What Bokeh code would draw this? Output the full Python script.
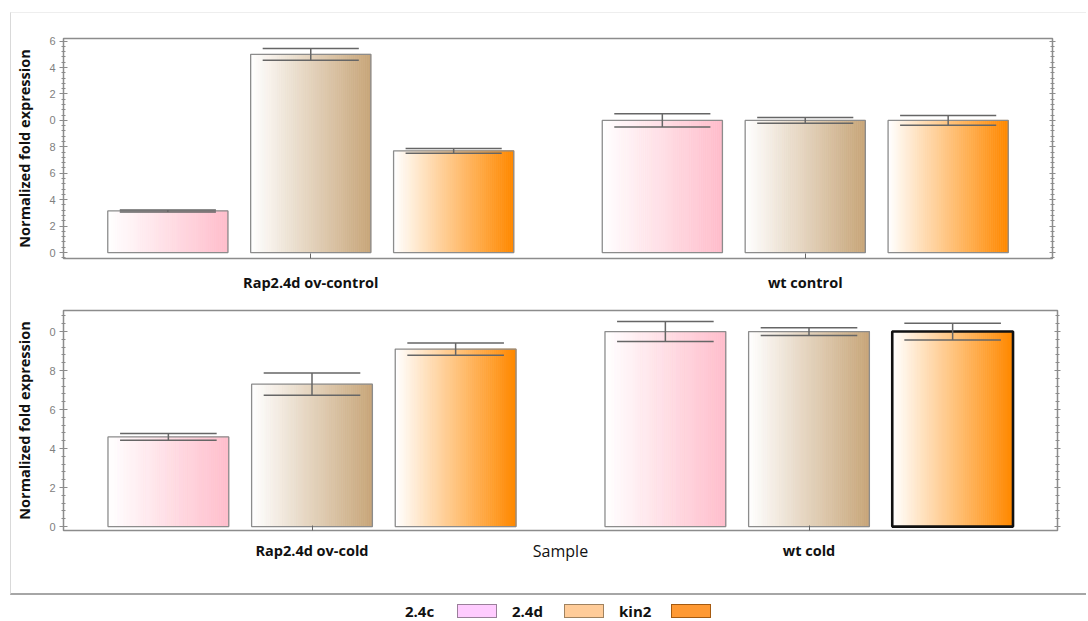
import numpy as np
from bokeh.plotting import figure
from bokeh.models import Range1d, FixedTicker, SingleIntervalTicker, LinearAxis, ColumnDataSource, Div
from bokeh.layouts import column
from bokeh.embed import file_html
from bokeh.resources import INLINE

# ---------------- data ----------------
series = ["2.4c", "2.4d", "kin2"]

top_groups = ["Rap2.4d ov-control", "wt control"]
top_values = {"2.4c": [3.15, 10.0], "2.4d": [15.0, 10.0], "kin2": [7.7, 10.0]}
top_errors = {"2.4c": [0.08, 0.50], "2.4d": [0.45, 0.22], "kin2": [0.18, 0.37]}
top_tick_values = [0, 2, 4, 6, 8, 10, 12, 14, 16]
top_tick_labels = ["0", "2", "4", "6", "8", "0", "2", "4", "6"]

bottom_groups = ["Rap2.4d ov-cold", "wt cold"]
bottom_values = {"2.4c": [4.6, 10.0], "2.4d": [7.3, 10.0], "kin2": [9.1, 10.0]}
bottom_errors = {"2.4c": [0.17, 0.51], "2.4d": [0.57, 0.20], "kin2": [0.31, 0.43]}
bottom_tick_values = [0, 2, 4, 6, 8, 10]
bottom_tick_labels = ["0", "2", "4", "6", "8", "0"]

x_title = "Sample"
y_title = "Normalized fold expression"

# ---------------- style ----------------
end_colors = {"2.4c": (255, 190, 204), "2.4d": (200, 166, 122), "kin2": (255, 137, 0)}
legend_colors = {"2.4c": "#ffccff", "2.4d": "#ffcc99", "kin2": "#ff9933"}
legend_borders = {"2.4c": "#9a7f9a", "2.4d": "#a0825f", "kin2": "#a55a10"}
BAR_STEP = 0.289
BAR_W = 0.243
N_SLICES = 60
GRAY = "#8c8c8c"


def hexc(rgb):
    return "#%02x%02x%02x" % tuple(int(round(c)) for c in rgb)


def panel(groups, vals, errs, tick_vals, tick_labels, y_lo, y_hi, frame_w,
          mb_top, mb_bottom, mb_right, label_standoff, highlight=None, xlabel=None):
    p = figure(frame_width=frame_w, frame_height=220,
               min_border_left=52, min_border_right=mb_right,
               min_border_top=mb_top, min_border_bottom=mb_bottom,
               x_range=Range1d(0, len(groups)), y_range=Range1d(y_lo, y_hi),
               output_backend="svg", toolbar_location=None, tools="",
               background_fill_color="white", border_fill_color="white")
    p.grid.visible = False
    p.outline_line_color = GRAY
    p.outline_line_width = 1.5

    sx, sw, st, sc = [], [], [], []
    bx, bt, blc, blw = [], [], [], []
    ex0, ey0, ex1, ey1 = [], [], [], []
    for gi, g in enumerate(groups):
        for si, s in enumerate(series):
            c = gi + 0.5 + (si - 1) * BAR_STEP
            v = vals[s][gi]
            e = errs[s][gi]
            end = end_colors[s]
            for k in range(N_SLICES):
                f = k / (N_SLICES - 1)
                col = tuple(255 + (end[j] - 255) * f for j in range(3))
                sx.append(c - BAR_W / 2 + (k + 0.5) * BAR_W / N_SLICES)
                sw.append(BAR_W / N_SLICES)
                st.append(v)
                sc.append(hexc(col))
            bx.append(c)
            bt.append(v)
            hl = highlight == (gi, si)
            blc.append("#111111" if hl else GRAY)
            blw.append(2.6 if hl else 1.3)
            cw = BAR_W * 0.8
            ex0 += [c, c - cw / 2, c - cw / 2]
            ex1 += [c, c + cw / 2, c + cw / 2]
            ey0 += [v - e, v + e, v - e]
            ey1 += [v + e, v + e, v - e]

    p.vbar(x="x", width="w", top="t", bottom=0, fill_color="c", line_color="c", line_width=0.8,
           source=ColumnDataSource(dict(x=sx, w=sw, t=st, c=sc)))
    p.vbar(x="x", width=BAR_W, top="t", bottom=0, fill_alpha=0, line_color="lc", line_width="lw",
           source=ColumnDataSource(dict(x=bx, t=bt, lc=blc, lw=blw)))
    p.segment(x0="x0", y0="y0", x1="x1", y1="y1", line_color="#666666", line_width=1.5,
              source=ColumnDataSource(dict(x0=ex0, y0=ey0, x1=ex1, y1=ey1)))

    # x axis
    xa = p.xaxis[0]
    xa.ticker = FixedTicker(ticks=[gi + 0.5 for gi in range(len(groups))], minor_ticks=[])
    xa.major_label_overrides = {gi + 0.5: g for gi, g in enumerate(groups)}
    xa.major_tick_in = 5
    xa.major_tick_out = 0
    xa.major_tick_line_color = "#666666"
    xa.axis_line_color = GRAY
    xa.major_label_standoff = label_standoff
    xa.major_label_text_font = "Open Sans"
    xa.major_label_text_font_style = "bold"
    xa.major_label_text_font_size = "14.5px"
    xa.major_label_text_color = "#111111"
    if xlabel:
        xa.axis_label = xlabel
        xa.axis_label_standoff = -23
        xa.axis_label_text_font = "Open Sans"
        xa.axis_label_text_font_style = "normal"
        xa.axis_label_text_font_size = "16px"
        xa.axis_label_text_color = "#111111"

    # y axis
    ticker = SingleIntervalTicker(interval=2, num_minor_ticks=5)
    ya = p.yaxis[0]
    ya.ticker = ticker
    ya.major_label_overrides = dict(zip(tick_vals, tick_labels))
    ya.axis_line_color = GRAY
    ya.major_tick_line_color = GRAY
    ya.minor_tick_line_color = GRAY
    ya.major_tick_in = 4
    ya.major_tick_out = 4
    ya.minor_tick_in = 2
    ya.minor_tick_out = 2
    ya.major_label_standoff = 4
    ya.major_label_text_font = "Liberation Sans"
    ya.major_label_text_font_size = "11px"
    ya.major_label_text_color = "#808080"
    ya.axis_label = y_title
    ya.axis_label_standoff = 12
    ya.axis_label_text_font = "Open Sans"
    ya.axis_label_text_font_style = "bold"
    ya.axis_label_text_font_size = "14.5px"
    ya.axis_label_text_color = "#111111"

    ra = LinearAxis(ticker=ticker, major_label_overrides={t: "" for t in tick_vals},
                    axis_line_color=GRAY, major_tick_line_color=GRAY, minor_tick_line_color=GRAY,
                    major_tick_in=3, major_tick_out=3, minor_tick_in=2, minor_tick_out=2)
    p.add_layout(ra, "right")
    return p


top = panel(top_groups, top_values, top_errors, top_tick_values, top_tick_labels,
            -0.45, 16.2, 989, 25, 34, 34, 14)
bottom = panel(bottom_groups, bottom_values, bottom_errors, bottom_tick_values, bottom_tick_labels,
               -0.2, 11.08, 994, 16, 63, 29, 10, highlight=(1, 2), xlabel=x_title)

items = []
for s in series:
    items.append('<span style="display:inline-block;width:52px">%s</span>' % s)
    items.append('<span style="display:inline-block;width:40px;height:14px;background:%s;'
                 'border:1px solid %s;margin-right:15px"></span>' % (legend_colors[s], legend_borders[s]))
legend = Div(text='<div style="display:flex;align-items:center;font-family:\'Open Sans\';'
                  'font-weight:bold;font-size:15px;line-height:16px;color:#111;margin-left:405px;margin-top:8px">'
                  + "".join(items) + "</div>",
             width=1086, height=26, margin=(0, 0, 0, 0))

panels = column(top, bottom, margin=(12, 0, 0, 10),
                styles={"border-left": "1px solid #d9d9d9",
                        "border-top": "1px solid #eeeeee",
                        "border-bottom": "2px solid #a6a6a6"})
layout = column(panels, legend)

open("out.html", "w").write(file_html(layout, INLINE))
